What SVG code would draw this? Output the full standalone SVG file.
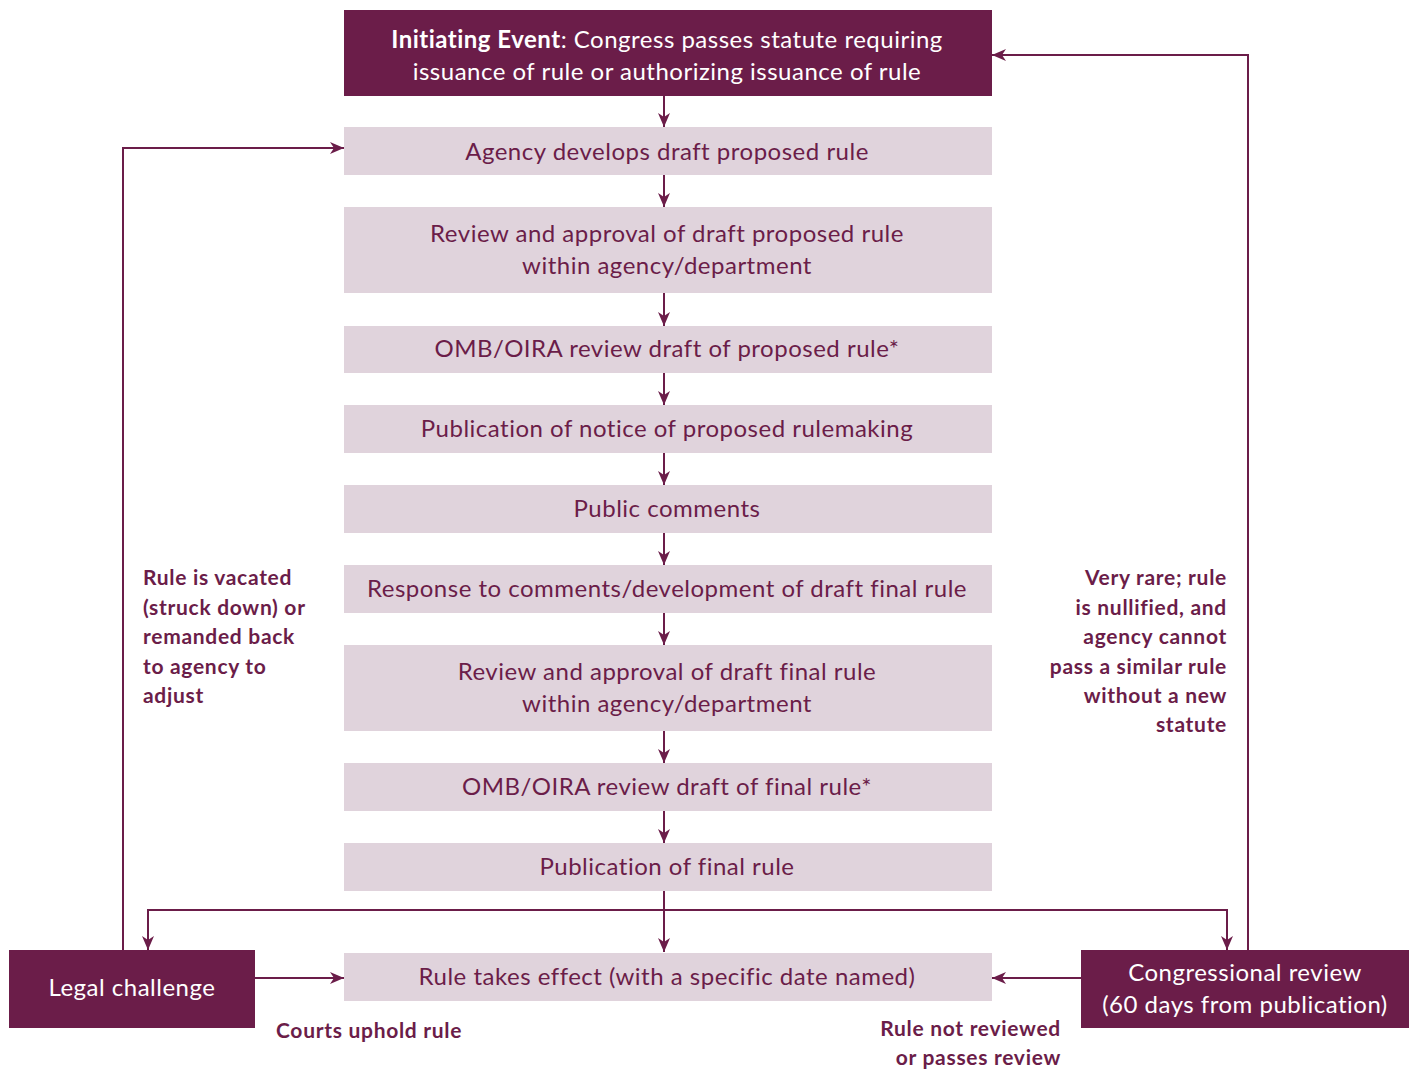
<svg xmlns="http://www.w3.org/2000/svg" width="1414" height="1069" viewBox="0 0 1414 1069">
<style>
.dark{fill:#6B1D49}
.light{fill:#E0D3DC}
.t{font-family:Lato,"Open Sans",sans-serif;font-size:24px;letter-spacing:0.5px;text-anchor:middle;fill:#6B1D49}
.w{fill:#ffffff}
.lbl{font-family:Lato,"Open Sans",sans-serif;font-size:21px;font-weight:bold;letter-spacing:0.7px;fill:#6B1D49}
.c{fill:none;stroke:#6B1D49;stroke-width:2}
</style>
<defs>
<marker id="a" viewBox="0 0 14 12" refX="14" refY="6" markerWidth="14" markerHeight="12" markerUnits="userSpaceOnUse" orient="auto">
<path d="M0,0 L14,6 L0,12 L4,6 Z" fill="#6B1D49"/>
</marker>
</defs>
<rect width="1414" height="1069" fill="#ffffff"/>
<g id="connectors">
<line class="c" x1="664" y1="95" x2="664" y2="127" marker-end="url(#a)"/>
<line class="c" x1="664" y1="174" x2="664" y2="207" marker-end="url(#a)"/>
<line class="c" x1="664" y1="292" x2="664" y2="326" marker-end="url(#a)"/>
<line class="c" x1="664" y1="372" x2="664" y2="405" marker-end="url(#a)"/>
<line class="c" x1="664" y1="452" x2="664" y2="485" marker-end="url(#a)"/>
<line class="c" x1="664" y1="532" x2="664" y2="565" marker-end="url(#a)"/>
<line class="c" x1="664" y1="612" x2="664" y2="645" marker-end="url(#a)"/>
<line class="c" x1="664" y1="730" x2="664" y2="763" marker-end="url(#a)"/>
<line class="c" x1="664" y1="810" x2="664" y2="843" marker-end="url(#a)"/>
<line class="c" x1="664" y1="890" x2="664" y2="952" marker-end="url(#a)"/>
<polyline class="c" points="148,950 148,910 1227,910 1227,950" />
<line class="c" x1="148" y1="930" x2="148" y2="950" marker-end="url(#a)"/>
<line class="c" x1="1227" y1="930" x2="1227" y2="950" marker-end="url(#a)"/>
<polyline class="c" points="123,950 123,148 344,148" marker-end="url(#a)"/>
<polyline class="c" points="1248,950 1248,55 992,55" marker-end="url(#a)"/>
<line class="c" x1="254" y1="978" x2="344" y2="978" marker-end="url(#a)"/>
<line class="c" x1="1081" y1="978" x2="992" y2="978" marker-end="url(#a)"/>
</g>
<g id="n0">
<rect class="dark" x="344" y="10" width="648" height="86"/>
<text class="t w" x="667" y="48"><tspan font-weight="bold">Initiating Event</tspan>: Congress passes statute requiring</text>
<text class="t w" x="667" y="80">issuance of rule or authorizing issuance of rule</text>
</g>
<g id="n1"><rect class="light" x="344" y="127" width="648" height="48"/><text class="t" x="667" y="160">Agency develops draft proposed rule</text></g>
<g id="n2"><rect class="light" x="344" y="207" width="648" height="86"/><text class="t" x="667" y="242">Review and approval of draft proposed rule</text><text class="t" x="667" y="274">within agency/department</text></g>
<g id="n3"><rect class="light" x="344" y="326" width="648" height="47"/><text class="t" x="667" y="357">OMB/OIRA review draft of proposed rule*</text></g>
<g id="n4"><rect class="light" x="344" y="405" width="648" height="48"/><text class="t" x="667" y="437">Publication of notice of proposed rulemaking</text></g>
<g id="n5"><rect class="light" x="344" y="485" width="648" height="48"/><text class="t" x="667" y="517">Public comments</text></g>
<g id="n6"><rect class="light" x="344" y="565" width="648" height="48"/><text class="t" x="667" y="597">Response to comments/development of draft final rule</text></g>
<g id="n7"><rect class="light" x="344" y="645" width="648" height="86"/><text class="t" x="667" y="680">Review and approval of draft final rule</text><text class="t" x="667" y="712">within agency/department</text></g>
<g id="n8"><rect class="light" x="344" y="763" width="648" height="48"/><text class="t" x="667" y="795">OMB/OIRA review draft of final rule*</text></g>
<g id="n9"><rect class="light" x="344" y="843" width="648" height="48"/><text class="t" x="667" y="875">Publication of final rule</text></g>
<g id="n10"><rect class="light" x="344" y="953" width="648" height="48"/><text class="t" x="667" y="985">Rule takes effect (with a specific date named)</text></g>
<g id="n11"><rect class="dark" x="9" y="950" width="246" height="78"/><text class="t w" x="132" y="996">Legal challenge</text></g>
<g id="n12"><rect class="dark" x="1081" y="950" width="328" height="78"/><text class="t w" x="1245" y="981">Congressional review</text><text class="t w" x="1245" y="1013">(60 days from publication)</text></g>
<g id="labels">
<text class="lbl" x="143" y="585">Rule is vacated</text>
<text class="lbl" x="143" y="615">(struck down) or</text>
<text class="lbl" x="143" y="644">remanded back</text>
<text class="lbl" x="143" y="674">to agency to</text>
<text class="lbl" x="143" y="703">adjust</text>
<text class="lbl" x="1227" y="585" text-anchor="end">Very rare; rule</text>
<text class="lbl" x="1227" y="615" text-anchor="end">is nullified, and</text>
<text class="lbl" x="1227" y="644" text-anchor="end">agency cannot</text>
<text class="lbl" x="1227" y="674" text-anchor="end">pass a similar rule</text>
<text class="lbl" x="1227" y="703" text-anchor="end">without a new</text>
<text class="lbl" x="1227" y="732" text-anchor="end">statute</text>
<text class="lbl" x="276" y="1038">Courts uphold rule</text>
<text class="lbl" x="1061" y="1036" text-anchor="end">Rule not reviewed</text>
<text class="lbl" x="1061" y="1065" text-anchor="end">or passes review</text>
</g>
</svg>
